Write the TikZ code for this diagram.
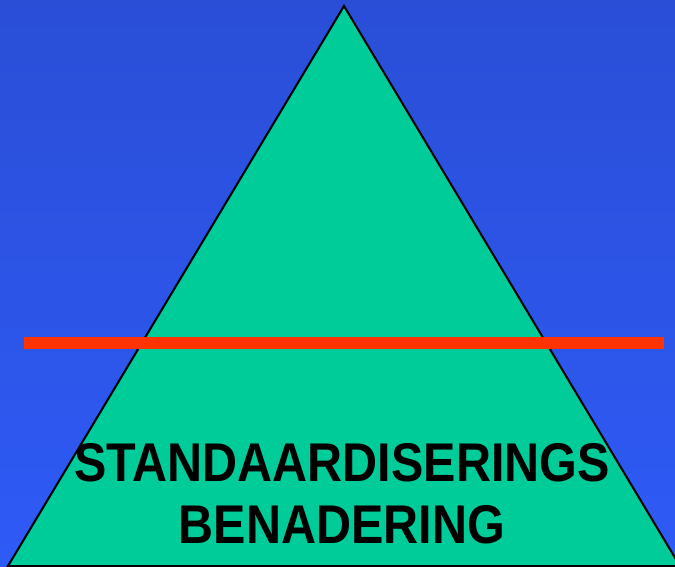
\documentclass[tikz,border=0pt]{standalone}
\usepackage{fontspec}
\setmainfont{Liberation Sans}
\definecolor{bgtop}{RGB}{42,78,214}
\definecolor{bgbot}{RGB}{46,90,246}
\definecolor{tri}{RGB}{0,204,153}
\definecolor{redline}{RGB}{255,51,0}
\tikzset{
  lbl/.style={anchor=base, inner sep=0pt, font=\bfseries\fontsize{54.5}{60}\selectfont, text=black, xscale=0.89},
  trioutline/.style={fill=tri, draw=black, line width=2pt, line join=miter},
  barline/.style={draw=redline, line width=12pt}
}
\begin{document}
\begin{tikzpicture}[x=1pt,y=1pt]
  \useasboundingbox (0,0) rectangle (675,566);
  \shade[top color=bgtop, bottom color=bgbot] (0,0) rectangle (675,566);
  \begin{scope}
    \clip (0,0) rectangle (675,566);
    \coordinate (apex) at (344,560);
    \coordinate (bl) at (8,0);
    \coordinate (br) at (680,0);
    \draw[trioutline] (apex) -- (br) -- (bl) -- cycle;
  \end{scope}
  \coordinate (rl) at (24,223);
  \coordinate (rr) at (664,223);
  \draw[barline] (rl) -- (rr);
  \node[lbl] (t1) at (342,85) {STANDAARDISERINGS};
  \node[lbl] (t2) at (342,23) {BENADERING};
\end{tikzpicture}
\end{document}
